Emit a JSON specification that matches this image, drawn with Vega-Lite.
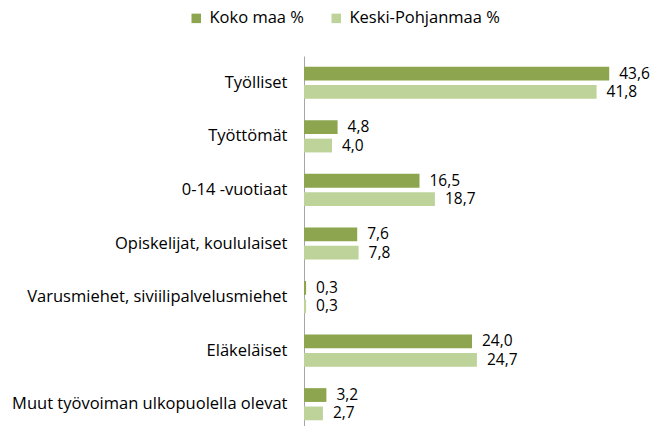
{
  "$schema": "https://vega.github.io/schema/vega-lite/v6.json",
  "width": 350,
  "height": 375,
  "autosize": "none",
  "padding": {"left": 304, "top": 56, "right": 3, "bottom": 0},
  "background": "white",
  "config": {
    "view": {"stroke": null},
    "font": "Open Sans",
    "locale": {"number": {"decimal": ",", "thousands": " ", "grouping": [3], "currency": ["", " €"]}}
  },
  "data": {
    "values": [
      {"category": "Työlliset", "series": "Koko maa %", "value": 43.6},
      {"category": "Työlliset", "series": "Keski-Pohjanmaa %", "value": 41.8},
      {"category": "Työttömät", "series": "Koko maa %", "value": 4.8},
      {"category": "Työttömät", "series": "Keski-Pohjanmaa %", "value": 4.0},
      {"category": "0-14 -vuotiaat", "series": "Koko maa %", "value": 16.5},
      {"category": "0-14 -vuotiaat", "series": "Keski-Pohjanmaa %", "value": 18.7},
      {"category": "Opiskelijat, koululaiset", "series": "Koko maa %", "value": 7.6},
      {"category": "Opiskelijat, koululaiset", "series": "Keski-Pohjanmaa %", "value": 7.8},
      {"category": "Varusmiehet, siviilipalvelusmiehet", "series": "Koko maa %", "value": 0.3},
      {"category": "Varusmiehet, siviilipalvelusmiehet", "series": "Keski-Pohjanmaa %", "value": 0.3},
      {"category": "Eläkeläiset", "series": "Koko maa %", "value": 24.0},
      {"category": "Eläkeläiset", "series": "Keski-Pohjanmaa %", "value": 24.7},
      {"category": "Muut työvoiman ulkopuolella olevat", "series": "Koko maa %", "value": 3.2},
      {"category": "Muut työvoiman ulkopuolella olevat", "series": "Keski-Pohjanmaa %", "value": 2.7}
    ]
  },
  "encoding": {
    "y": {
      "field": "category", "type": "nominal", "sort": null,
      "scale": {"paddingInner": 0.4, "paddingOuter": 0.2},
      "axis": {"title": null, "ticks": false, "labelFontSize": 16.5, "labelColor": "#000000", "labelPadding": 17, "domainColor": "#a6a6a6", "labelLimit": 400}
    },
    "yOffset": {
      "field": "series", "type": "nominal", "sort": ["Koko maa %", "Keski-Pohjanmaa %"],
      "scale": {"paddingInner": 0.25, "paddingOuter": 0}
    },
    "x": {
      "field": "value", "type": "quantitative",
      "scale": {"domain": [0, 50], "nice": false},
      "axis": null
    }
  },
  "layer": [
    {
      "mark": {"type": "bar"},
      "encoding": {
        "color": {
          "field": "series", "type": "nominal",
          "scale": {"domain": ["Koko maa %", "Keski-Pohjanmaa %"], "range": ["#8CA54E", "#BDD39A"]},
          "legend": {
            "title": null, "orient": "none", "direction": "horizontal",
            "legendX": -116, "legendY": -46,
            "symbolType": "square", "symbolSize": 90, "symbolStrokeWidth": 0,
            "labelFontSize": 16.5, "labelColor": "#000000", "columnPadding": 24, "labelOffset": 5
          }
        }
      }
    },
    {
      "mark": {"type": "text", "align": "left", "dx": 10, "fontSize": 15.5, "color": "#000000"},
      "encoding": {
        "text": {"field": "value", "type": "quantitative", "format": ".1f"}
      }
    }
  ]
}
